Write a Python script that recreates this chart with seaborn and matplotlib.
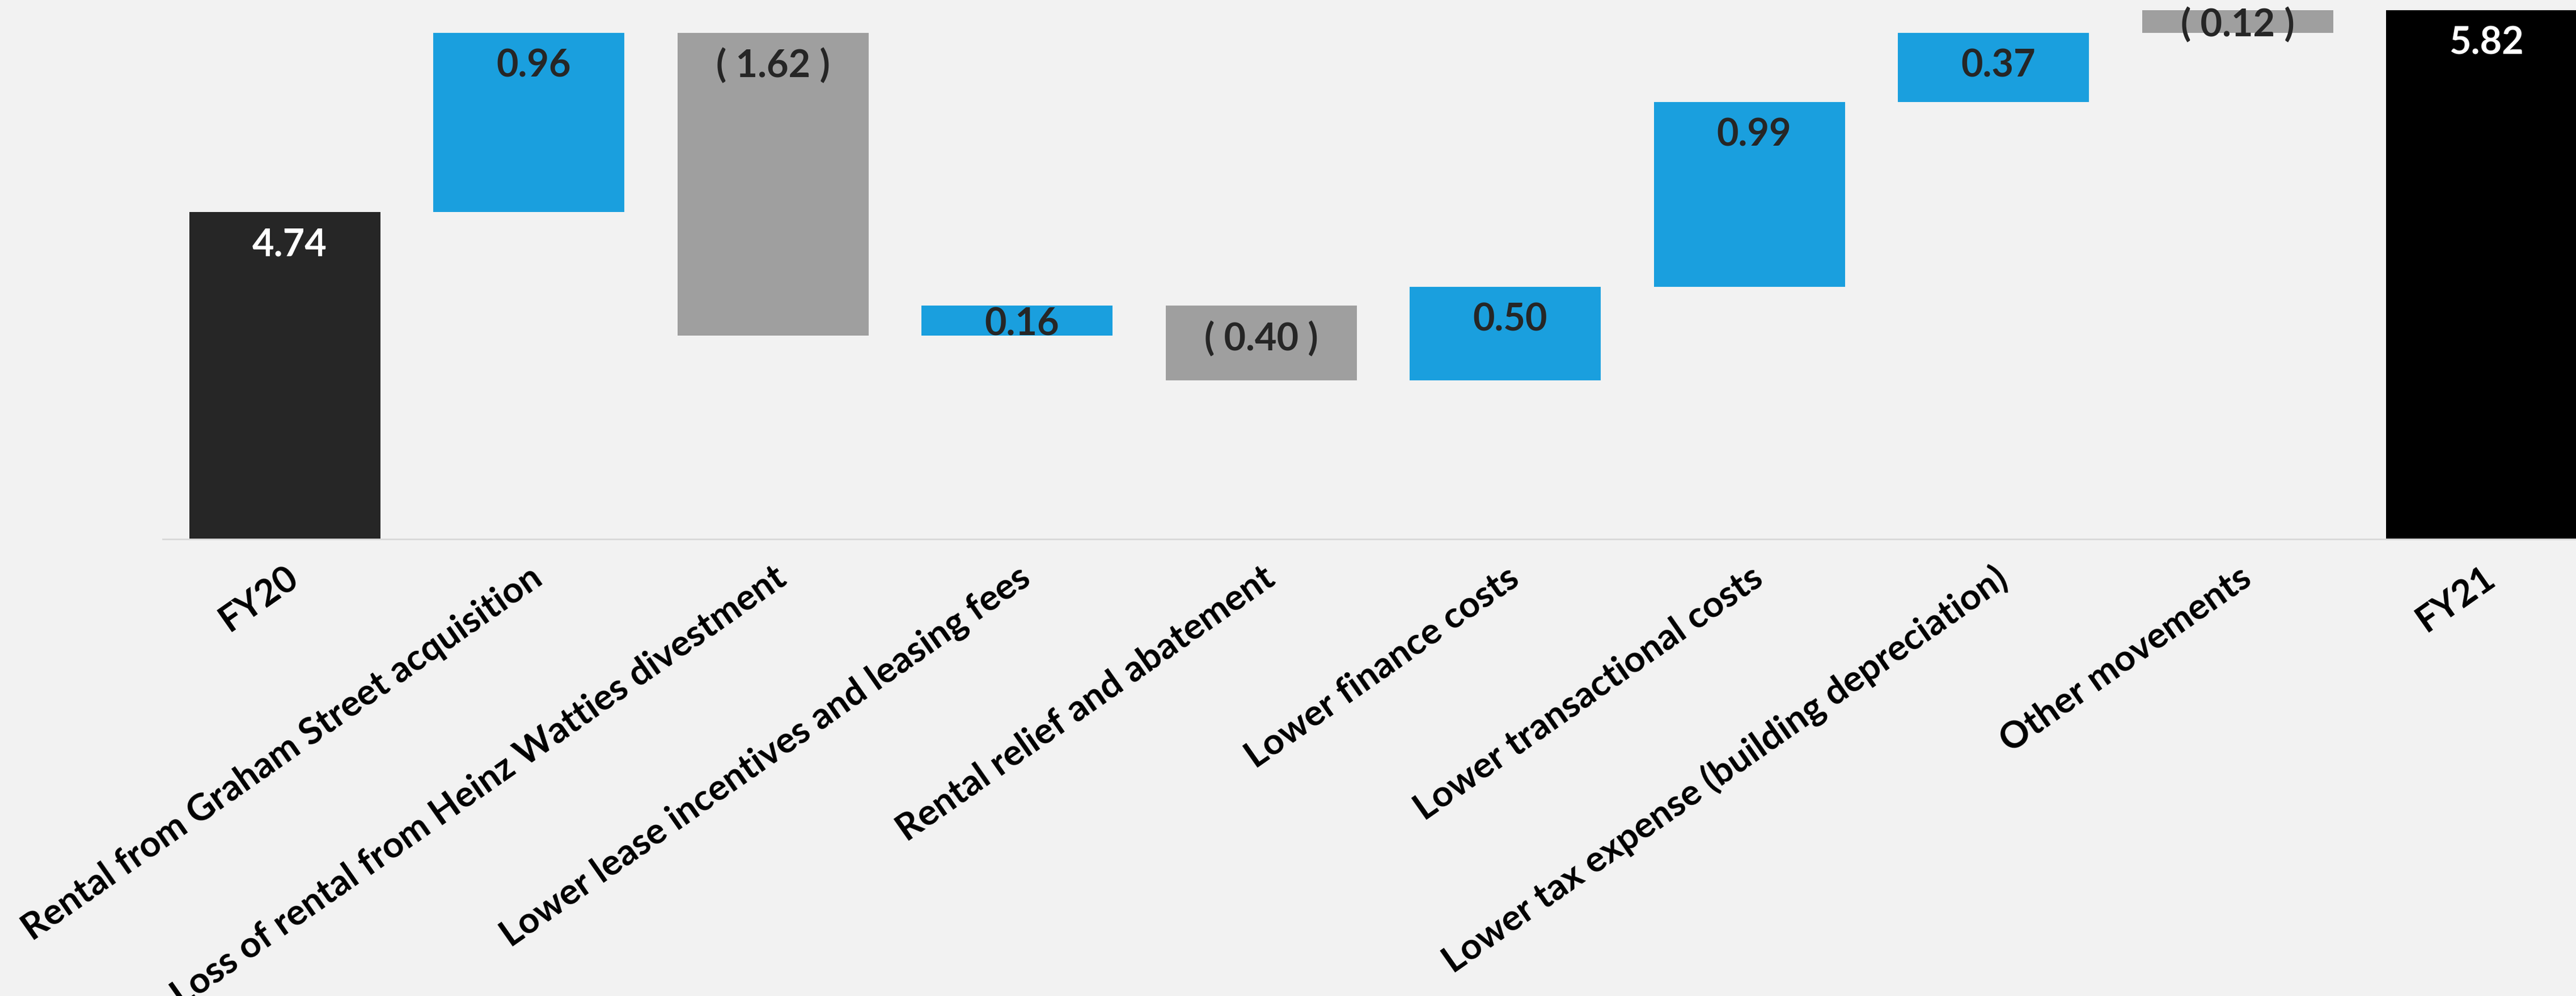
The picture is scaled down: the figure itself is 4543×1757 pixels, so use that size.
import numpy as np
import pandas as pd
import matplotlib
matplotlib.use("Agg")
import matplotlib.pyplot as plt
import seaborn as sns

# ---------------- data ----------------
categories = [
    "FY20",
    "Rental from Graham Street acquisition",
    "Loss of rental from Heinz Watties divestment",
    "Lower lease incentives and leasing fees",
    "Rental relief and abatement",
    "Lower finance costs",
    "Lower transactional costs",
    "Lower tax expense (building depreciation)",
    "Other movements",
    "FY21",
]
start_total = 4.74
end_total = 5.82
changes = [0.96, -1.62, 0.16, -0.40, 0.50, 0.99, 0.37, -0.12]
value_labels = ["4.74", "0.96", "( 1.62 )", "0.16", "( 0.40 )",
                "0.50", "0.99", "0.37", "( 0.12 )", "5.82"]

# ---------------- styling ----------------
BG = "#f2f2f2"
C_START = "#262626"
C_END = "#000000"
C_UP = "#1a9fde"
C_DOWN = "#9f9f9f"

sns.set_theme(style="white", rc={"axes.facecolor": BG, "figure.facecolor": BG})
plt.rcParams["font.family"] = ["Lato", "DejaVu Sans"]

# ---------------- waterfall spans ----------------
running = start_total + np.concatenate([[0.0], np.cumsum(changes)])
lows, highs, colors = [0.0], [start_total], [C_START]
for i, c in enumerate(changes):
    a = running[i]
    # the last movement bridges to the FY21 total, as drawn in the source
    b = running[i + 1] if i < len(changes) - 1 else end_total
    lows.append(min(a, b))
    highs.append(max(a, b))
    colors.append(C_UP if c > 0 else C_DOWN)
lows.append(0.0)
highs.append(end_total)
colors.append(C_END)
lows = np.array(lows)
highs = np.array(highs)

df = pd.DataFrame({"category": categories, "span": highs - lows})

W, H, DPI = 4543, 1757, 100
fig = plt.figure(figsize=(W / DPI, H / DPI), dpi=DPI)
ax_left = 287 / W
ax_bottom = (H - 951) / H
ax = fig.add_axes([ax_left, ax_bottom, 4305 / W, 1 - ax_bottom])

sns.barplot(data=df, x="category", y="span", order=categories, bottom=lows,
            width=0.783, errorbar=None, color=C_UP, linewidth=0, ax=ax,
            saturation=1)
for patch, col in zip(ax.patches, colors):
    patch.set_facecolor(col)
    patch.set_edgecolor(col)

ax.set_xlim(-0.5, len(categories) - 0.5)
ax.set_ylim(2.99, 5.875)

# value labels
ppu = 329.6  # pixels per unit, used only to decide label placement
for i, (lo, hi, lab) in enumerate(zip(lows, highs, value_labels)):
    txt_col = "white" if i in (0, len(categories) - 1) else "#262626"
    dx = 0 if lab.startswith("(") else 6
    if (hi - max(lo, 2.99)) * ppu > 110:
        ax.annotate(lab, xy=(i, hi), xytext=(dx, -20), textcoords="offset points",
                    ha="center", va="top", fontsize=48, fontweight="bold",
                    color=txt_col)
    else:
        ax.annotate(lab, xy=(i, (lo + hi) / 2), xytext=(dx, -5), textcoords="offset points",
                    ha="center", va="center", fontsize=48, fontweight="bold",
                    color=txt_col)

ax.set_xticks(range(len(categories)))
ax.set_xticklabels(categories, rotation=35, ha="right", va="top",
                   rotation_mode="anchor", fontsize=46.5, fontweight="bold",
                   color="black")
ax.tick_params(axis="x", length=0, pad=27)
ax.set_yticks([])
ax.set_xlabel("")
ax.set_ylabel("")
for s in ["top", "left", "right"]:
    ax.spines[s].set_visible(False)
ax.spines["bottom"].set_color("#d9d9d9")
ax.spines["bottom"].set_linewidth(2)

fig.savefig("out.png", dpi=DPI, facecolor=BG)
